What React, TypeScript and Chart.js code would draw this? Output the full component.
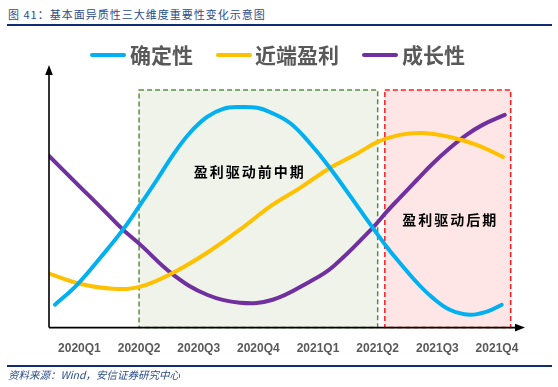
import React, { useEffect, useRef } from 'react';
import { Chart, registerables } from 'chart.js';

Chart.register(...registerables);

// x values are in quarter units: 0 = 2020Q1 ... 7 = 2021Q4
const quarters = ['2020Q1', '2020Q2', '2020Q3', '2020Q4', '2021Q1', '2021Q2', '2021Q3', '2021Q4'];

const certaintyX = [-0.41, -0.04, 0.35, 0.73, 1.02, 1.30, 1.57, 1.85, 2.14, 2.41, 2.69, 2.98, 3.19, 3.53, 3.86, 4.20, 4.82, 5.15, 5.37, 5.66, 5.92, 6.21, 6.54, 6.83, 7.08];
const certaintyY = [8.7, 16.3, 26.6, 37.3, 46.8, 56.3, 65.8, 74.1, 80.2, 83.3, 84.0, 83.7, 82.1, 77.9, 70.3, 60.8, 41.1, 30.8, 24.7, 17.1, 11.4, 6.8, 4.9, 6.1, 8.7];

const profitX = [-0.51, 0.01, 0.56, 1.02, 1.57, 2.14, 2.69, 3.24, 3.70, 4.20, 4.62, 5.00, 5.37, 5.76, 6.21, 6.66, 7.10];
const profitY = [20.5, 16.7, 14.8, 15.6, 20.9, 28.5, 37.3, 46.8, 53.2, 60.8, 65.8, 70.7, 73.4, 74.1, 72.6, 69.6, 65.0];

const growthX = [-0.51, 0.01, 0.35, 0.73, 1.02, 1.57, 2.14, 2.69, 3.24, 3.86, 4.25, 4.90, 5.15, 5.37, 5.66, 5.92, 6.21, 6.49, 6.76, 7.13];
const growthY = [65.4, 53.6, 46.0, 37.3, 31.6, 20.2, 12.5, 9.5, 10.6, 17.5, 23.2, 37.6, 44.1, 49.4, 56.3, 62.4, 68.4, 73.4, 77.2, 81.0];

const seriesNames = ['确定性', '近端盈利', '成长性'];

// phase windows (quarter units) and their annotation anchors
const phaseLabels = ['盈利驱动前中期', '盈利驱动后期'];
const phaseFrom = [1.0, 5.12];
const phaseTo = [5.0, 7.23];
const phaseTop = [90.5, 90.5];
const phaseLabelX = [2.84, 6.2];
const phaseLabelY = [59.3, 41.1];

const X_MIN = -0.51;
const X_MAX = 7.47;

const COLORS = ['#00B0F0', '#FFC000', '#7030A0'];
const PHASE_FILL = ['#EFF3EA', '#FFE6E6'];
const PHASE_STROKE = ['#5E8C3E', '#FF1A1A'];

const toPoints = (xs: number[], ys: number[]) => xs.map((x, i) => ({ x, y: ys[i] }));

const overlayPlugin = {
  id: 'overlay',
  beforeDatasetsDraw(chart: any) {
    const { ctx, scales } = chart;
    const xs = scales.x;
    const ys = scales.y;
    phaseLabels.forEach((_, i) => {
      const l = xs.getPixelForValue(phaseFrom[i]);
      const r = xs.getPixelForValue(phaseTo[i]);
      const t = ys.getPixelForValue(phaseTop[i]);
      const b = ys.getPixelForValue(0);
      ctx.save();
      ctx.fillStyle = PHASE_FILL[i];
      ctx.fillRect(l, t, r - l, b - t);
      ctx.setLineDash([5, 3]);
      ctx.lineWidth = 1.5;
      ctx.strokeStyle = PHASE_STROKE[i];
      ctx.strokeRect(l, t, r - l, b - t);
      ctx.restore();
    });
    phaseLabels.forEach((label, i) => {
      ctx.save();
      ctx.font = 'bold 14px "Noto Sans CJK SC", sans-serif';
      (ctx as any).letterSpacing = '2px';
      ctx.fillStyle = '#000000';
      ctx.textAlign = 'center';
      ctx.textBaseline = 'middle';
      ctx.fillText(label, xs.getPixelForValue(phaseLabelX[i]) + 1, ys.getPixelForValue(phaseLabelY[i]));
      ctx.restore();
    });
  },
  afterDraw(chart: any) {
    const { ctx, chartArea } = chart;
    const { left, right, top, bottom } = chartArea;
    ctx.save();
    ctx.strokeStyle = '#000000';
    ctx.fillStyle = '#000000';
    ctx.lineWidth = 1.6;
    ctx.beginPath();
    ctx.moveTo(left, bottom);
    ctx.lineTo(left, top + 8);
    ctx.moveTo(left, bottom);
    ctx.lineTo(right - 8, bottom);
    ctx.stroke();
    ctx.beginPath();
    ctx.moveTo(left, top);
    ctx.lineTo(left - 3.8, top + 10);
    ctx.lineTo(left + 3.8, top + 10);
    ctx.closePath();
    ctx.fill();
    ctx.beginPath();
    ctx.moveTo(right, bottom);
    ctx.lineTo(right - 10, bottom - 3.8);
    ctx.lineTo(right - 10, bottom + 3.8);
    ctx.closePath();
    ctx.fill();
    ctx.restore();
  },
};

export default function App() {
  const canvasRef = useRef<HTMLCanvasElement | null>(null);

  useEffect(() => {
    if (!canvasRef.current) return;
    const chart = new Chart(canvasRef.current, {
      type: 'line',
      data: {
        datasets: [
          { label: seriesNames[0], data: toPoints(certaintyX, certaintyY) },
          { label: seriesNames[1], data: toPoints(profitX, profitY) },
          { label: seriesNames[2], data: toPoints(growthX, growthY) },
        ].map((d, i) => ({
          ...d,
          borderColor: COLORS[i],
          backgroundColor: COLORS[i],
          borderWidth: 4,
          pointRadius: 0,
          fill: false,
          tension: 0.4,
          borderCapStyle: 'round' as const,
          borderJoinStyle: 'round' as const,
        })),
      },
      options: {
        responsive: false,
        animation: false,
        events: [],
        layout: { padding: { left: 49, right: 33, top: 65, bottom: 18 } },
        plugins: {
          legend: { display: false },
          tooltip: { enabled: false },
        },
        scales: {
          x: {
            type: 'linear',
            min: X_MIN,
            max: X_MAX,
            grid: { display: false, drawTicks: false },
            border: { display: false },
            afterBuildTicks: (scale: any) => {
              scale.ticks = quarters.map((_, i) => ({ value: i }));
            },
            ticks: {
              autoSkip: false,
              maxRotation: 0,
              padding: 13.5,
              color: '#595959',
              font: { family: '"Liberation Sans", Arial, sans-serif', size: 12, weight: 'bold' },
              callback: (v: any) => quarters[Math.round(Number(v))] ?? '',
            },
          },
          y: {
            display: false,
            min: 0,
            max: 100,
          },
        },
      },
      plugins: [overlayPlugin],
    });
    return () => chart.destroy();
  }, []);

  const cjk = '"Noto Sans CJK SC", "Noto Sans", sans-serif';
  const legendItems = [
    { line: 90, text: 130 },
    { line: 216, text: 255 },
    { line: 362, text: 402 },
  ];

  return (
    <div style={{ position: 'absolute', left: 0, top: 0, width: 558, height: 387, background: '#ffffff', overflow: 'hidden' }}>
      <div style={{ position: 'absolute', left: 8, top: 6, fontFamily: cjk, fontSize: 11, lineHeight: '16px', color: '#2B4C8C', letterSpacing: 1, whiteSpace: 'nowrap' }}>
        图 41：基本面异质性三大维度重要性变化示意图
      </div>
      <div style={{ position: 'absolute', left: 7, top: 24, width: 545, height: 2, background: '#0E2D72' }} />
      <canvas ref={canvasRef} width={558} height={387} style={{ position: 'absolute', left: 0, top: 0, width: 558, height: 387 }} />
      {legendItems.map((it, i) => (
        <React.Fragment key={i}>
          <div style={{ position: 'absolute', left: it.line, top: 53, width: 36, height: 4, borderRadius: 2, background: COLORS[i] }} />
          <div style={{ position: 'absolute', left: it.text, top: 42, fontFamily: cjk, fontWeight: 'bold', fontSize: 21, lineHeight: '24px', color: '#595959', whiteSpace: 'nowrap' }}>
            {seriesNames[i]}
          </div>
        </React.Fragment>
      ))}
      <div style={{ position: 'absolute', left: 7, top: 365, width: 545, height: 2, background: '#0E2D72' }} />
      <div style={{ position: 'absolute', left: 8, top: 367, fontFamily: cjk, fontStyle: 'italic', fontSize: 10.5, lineHeight: '15px', color: '#2B4C8C', whiteSpace: 'nowrap' }}>
        资料来源：Wind，安信证券研究中心
      </div>
    </div>
  );
}
